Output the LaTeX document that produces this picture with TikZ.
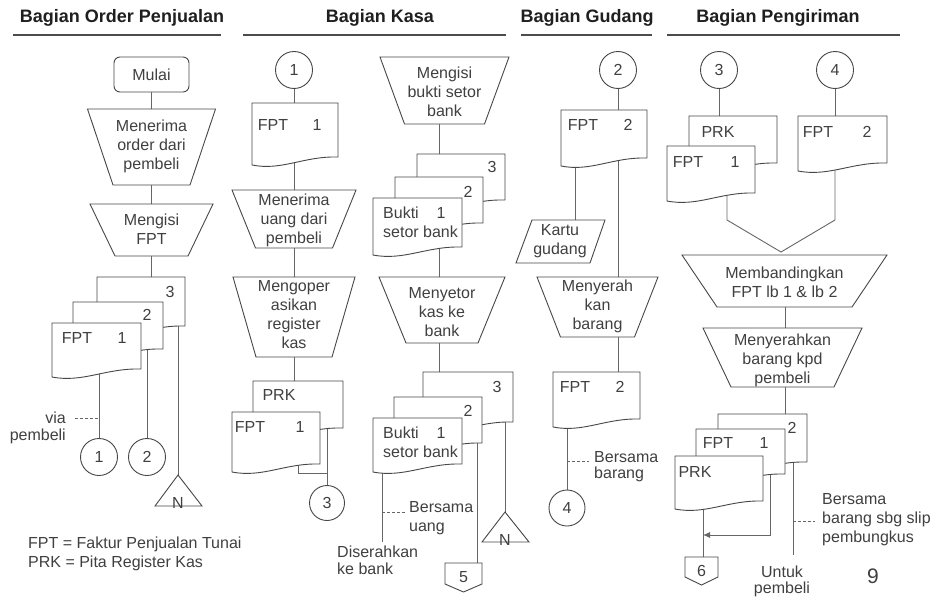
\documentclass[tikz,border=0pt]{standalone}
\usepackage{fontspec}
\setmainfont{Liberation Sans}
\usetikzlibrary{arrows.meta}
\pgfdeclarelayer{back}
\pgfsetlayers{back,main}

\tikzset{
  shp/.style={draw=black!72, line width=0.9pt, line join=miter},
  conn/.style={draw=black!60, line width=0.9pt},
  dashconn/.style={draw=black!60, line width=0.9pt, dash pattern=on 3pt off 2pt},
  lab/.style={inner sep=0pt, text=black!75, font=\fontsize{16}{19}\selectfont, align=center},
  hdr/.style={inner sep=0pt, text=black!88, font=\fontsize{18}{21}\selectfont\bfseries},
  hrule/.style={draw=black!70, line width=2pt},
  conncirc/.style={circle, shp, fill=white, minimum size=37pt, inner sep=0pt,
                   text=black!75, font=\fontsize{16}{19}\selectfont},
  term/.style={shp, fill=white, rounded corners=6pt, minimum width=75pt,
               minimum height=35pt, inner sep=0pt, text=black!75,
               font=\fontsize{16}{19}\selectfont},
}

% document symbol: name, left x, top y, right x, bottom-left y
\newcommand\docu[5]{%
  \draw[shp, fill=white] (#2,#3) -- (#4,#3) -- (#4,{#5-8})
    .. controls ({#2+0.6*(#4-#2)},{#5-9}) and ({#2+0.35*(#4-#2)},{#5+6}) .. (#2,#5) -- cycle;
  \coordinate (#1) at ({(#2+#4)/2},#3);
}

% manual operation: name, centre x, top y, bottom y, half top, half bottom, text, text y
\newcommand\manop[8]{%
  \draw[shp, fill=white] ({#2-#5},#3) -- ({#2+#5},#3) -- ({#2+#6},#4) -- ({#2-#6},#4) -- cycle;
  \node[lab] (#1) at (#2,#8) {#7};
  \coordinate (#1-t) at (#2,#3);
  \coordinate (#1-b) at (#2,#4);
}

\begin{document}
\begin{tikzpicture}[x=1pt, y=-1pt]
\useasboundingbox (0,0) rectangle (934,597);
\begin{pgfonlayer}{back}
  \fill[white] (0,0) rectangle (934,597);
\end{pgfonlayer}

% ---------------- headers ----------------
\node[hdr] (hOrder) at (122,18) {Bagian Order Penjualan};
\draw[hrule] (13,35) -- (221,35);
\node[hdr] (hKasa) at (380,18) {Bagian Kasa};
\draw[hrule] (243,35) -- (506,35);
\node[hdr] (hGud) at (587,18) {Bagian Gudang};
\draw[hrule] (521,35) -- (652,35);
\node[hdr] (hKirim) at (778,18) {Bagian Pengiriman};
\draw[hrule] (667,35) -- (900,35);

% ---------------- Bagian Order Penjualan ----------------
\node[term] (mulai) at (151.5,74.5) {Mulai};
\manop{opA}{151.5}{109}{185}{64}{38.5}{Menerima\\order dari\\pembeli}{146}
\manop{opB}{151.5}{204}{256}{61.5}{36.5}{Mengisi\\FPT}{229}
\docu{oD3}{97}{277}{185}{334}
\docu{oD2}{73}{302}{163}{357}
\docu{oD1}{52}{323}{141}{377}
\node[lab] (oT3) at (170,292) {3};
\node[lab] (oT2) at (147,315) {2};
\node[lab] (oT1a) at (77,338) {FPT};
\node[lab] (oT1b) at (122,338) {1};
\node[conncirc] (o1) at (99,457) {1};
\node[conncirc] (o2) at (147,457) {2};
\coordinate (oNtop) at (178,475);
\draw[shp, fill=white] (oNtop) -- (202,506) -- (155,506) -- cycle;
\node[lab] (oN) at (178,503) {N};
\node[lab, anchor=east, align=right, font=\fontsize{16}{17}\selectfont] (via) at (66,428) {via\\pembeli};
\coordinate (viaDash) at (75,418);
\node[lab, anchor=west] (leg1) at (28,544) {FPT = Faktur Penjualan Tunai};
\node[lab, anchor=west] (leg2) at (28,563) {PRK = Pita Register Kas};

% ---------------- Bagian Kasa ----------------
\node[conncirc] (k1) at (294,70) {1};
\docu{kD}{252}{103}{338}{165}
\node[lab] (kDa) at (273,125) {FPT};
\node[lab] (kDb) at (317,125) {1};
\manop{opC}{294}{190}{248}{62}{38.5}{Menerima\\uang dari\\pembeli}{220}
\manop{opD}{294}{277}{357}{61}{38}{Mengoper\\asikan\\register\\kas}{315}
\docu{kP}{253}{381}{343}{436}
\node[lab] (kPa) at (279,395) {PRK};
\docu{kF}{232}{412}{320}{472}
\node[lab] (kFa) at (250,427) {FPT};
\node[lab] (kFb) at (300,427) {1};
\node[conncirc, minimum size=35pt] (k3) at (327,503) {3};
\coordinate (kJ) at (298,473);

\manop{opE}{444.5}{57}{124}{64.5}{40}{Mengisi\\bukti setor\\bank}{92}
\docu{kB3}{417}{154}{505}{208}
\docu{kB2}{395}{177}{483}{231}
\docu{kB1}{373}{198}{462}{255}
\node[lab] (kB3a) at (492,167) {3};
\node[lab] (kB2a) at (468,192) {2};
\node[lab, anchor=west] (kB1a) at (383,213) {Bukti};
\node[lab] (kB1b) at (441,213) {1};
\node[lab, anchor=west] (kB1c) at (383,232) {setor bank};
\coordinate (kcol) at (439,0);
\manop{opF}{442}{277}{343}{63}{36}{Menyetor\\kas ke\\bank}{312}
\docu{kC3}{423}{372}{513}{430}
\docu{kC2}{394}{397}{482}{451}
\docu{kC1}{373}{418}{462}{472}
\node[lab] (kC3a) at (497,387) {3};
\node[lab] (kC2a) at (468,411) {2};
\node[lab, anchor=west] (kC1a) at (383,433) {Bukti};
\node[lab] (kC1b) at (441,433) {1};
\node[lab, anchor=west] (kC1c) at (383,452) {setor bank};
\coordinate (kEnd) at (382,542);
\coordinate (kDash) at (406,512);
\node[lab, anchor=west, align=left] (kUang) at (409,518) {Bersama\\uang};
\node[lab, anchor=west, align=left, font=\fontsize{16}{17}\selectfont] (kBank) at (337,560.5) {Diserahkan\\ke bank};
\coordinate (k5top) at (477,563);
\draw[shp, fill=white] (445,563) -- (482,563) -- (482,584) -- (463.5,592) -- (445,584) -- cycle;
\node[lab] (k5) at (463.5,577) {5};
\coordinate (kNtop) at (505,512);
\draw[shp, fill=white] (kNtop) -- (529,542) -- (482,542) -- cycle;
\node[lab] (kN) at (505,540) {N};

% ---------------- Bagian Gudang ----------------
\node[conncirc] (g2) at (618,70) {2};
\coordinate (gcol) at (618,0);
\docu{gD}{561}{110}{647}{166}
\node[lab] (gDa) at (583,125) {FPT};
\node[lab] (gDb) at (628,125) {2};
\coordinate (gKt) at (575,220);
\draw[shp, fill=white] (532,220) -- (605,220) -- (590,263) -- (516,263) -- cycle;
\node[lab] (gK) at (560,241) {Kartu\\gudang};
\manop{opG}{597.5}{277}{337}{60.5}{37}{Menyerah\\kan\\barang}{306}
\docu{gD2}{553}{372}{640}{427}
\node[lab] (gD2a) at (575,387) {FPT};
\node[lab] (gD2b) at (620,387) {2};
\node[conncirc, minimum size=36pt] (g4) at (567,508) {4};
\coordinate (gDash) at (589,461);
\node[lab, anchor=west, align=left, font=\fontsize{16}{16}\selectfont] (gBrg) at (594,466.5) {Bersama\\barang};

% ---------------- Bagian Pengiriman ----------------
\node[conncirc] (p3) at (719,70) {3};
\node[conncirc] (p4) at (835,70) {4};
\docu{pP}{689}{116}{777}{171}
\node[lab] (pPa) at (718,132) {PRK};
\docu{pF1}{667}{146}{755}{201}
\node[lab] (pF1a) at (688,162) {FPT};
\node[lab] (pF1b) at (735,162) {1};
\docu{pF2}{798}{116}{887}{171}
\node[lab] (pF2a) at (818,132) {FPT};
\node[lab] (pF2b) at (867,132) {2};
\coordinate (pL) at (727,220);
\coordinate (pV) at (781,252);
\coordinate (pR) at (835,220);
\manop{opH}{784.5}{255}{307}{102.5}{67.5}{Membandingkan\\FPT lb 1 \& lb 2}{282.5}
\manop{opI}{782.5}{328}{387}{79.5}{51.5}{Menyerahkan\\barang kpd\\pembeli}{360}
\coordinate (pcol) at (785,0);
\docu{pQ2}{718}{414}{807}{470}
\docu{pQ1}{696}{429}{785}{482}
\docu{pQ0}{675}{456}{763}{509}
\node[lab] (pQ2a) at (792,428) {2};
\node[lab] (pQ1a) at (718,443) {FPT};
\node[lab] (pQ1b) at (764,443) {1};
\node[lab] (pQ0a) at (695,472) {PRK};
\coordinate (p6top) at (703,557);
\draw[shp, fill=white] (685,557) -- (718,557) -- (718,577) -- (701.5,585) -- (685,577) -- cycle;
\node[lab] (p6) at (701.5,571) {6};
\coordinate (pArr) at (770,535);
\coordinate (pEnd) at (793,555);
\coordinate (pDash) at (815,521);
\node[lab, anchor=west, align=left] (pSlip) at (822,520) {Bersama\\barang sbg slip\\pembungkus};
\node[lab, font=\fontsize{16}{16}\selectfont] (pUntuk) at (782,581.5) {Untuk\\pembeli};
\node[lab, font=\fontsize{21}{24}\selectfont] (pageno) at (873,576) {9};

% ---------------- connectors ----------------
\begin{pgfonlayer}{back}
  % order
  \draw[conn] (mulai) -- (opA-t);
  \draw[conn] (opA-b) -- (opB-t);
  \draw[conn] (opB-b) -- (opB-b |- oD3);
  \draw[conn] (o1 |- oD1) -- (o1);
  \draw[conn] (o2 |- oD2) -- (o2);
  \draw[conn] (oNtop |- oD3) -- (oNtop);
  \draw[dashconn] (viaDash) -- (viaDash -| o1);
  % kasa, left
  \draw[conn] (k1) -- (k1 |- kD);
  \draw[conn] (opC-t |- kD) -- (opC-t);
  \draw[conn] (opC-b) -- (opD-t);
  \draw[conn] (opD-b) -- (opD-b |- kP);
  \draw[conn] (kJ |- kF) -- (kJ) -- (kJ -| k3);
  \draw[conn] (k3 |- kP) -- (k3);
  % kasa, right
  \draw[conn] (kcol |- opE-b) -- (kcol |- kB3);
  \draw[conn] (kcol |- kB1) -- (kcol |- opF-t);
  \draw[conn] (kcol |- opF-b) -- (kcol |- kC3);
  \draw[conn] (kEnd |- kC1) -- (kEnd);
  \draw[dashconn] (kDash -| kEnd) -- (kDash);
  \draw[conn] (k5top |- kC2) -- (k5top);
  \draw[conn] (kNtop |- kC3) -- (kNtop);
  % gudang
  \draw[conn] (g2) -- (g2 |- gD);
  \draw[conn] (gcol |- gD) -- (gcol |- opG-t);
  \draw[conn] (gcol |- opG-b) -- (gcol |- gD2);
  \draw[conn] (gKt |- gD) -- (gKt);
  \draw[conn] (g4 |- gD2) -- (g4);
  \draw[dashconn] (gDash -| g4) -- (gDash);
  % pengiriman
  \draw[conn] (p3) -- (p3 |- pP);
  \draw[conn] (p4) -- (p4 |- pF2);
  \draw[conn] (pL |- pF1) -- (pL) -- (pV) -- (pR) -- (pR |- pF2);
  \draw[conn] (pcol |- opH-b) -- (pcol |- opI-t);
  \draw[conn] (pcol |- opI-b) -- (pcol |- pQ2);
  \draw[conn] (p6top |- pQ0) -- (p6top);
  \draw[conn, -{Latex[length=7pt,width=6pt]}] (pArr |- pQ1) -- (pArr) -- (pArr -| p6top);
  \draw[conn] (pEnd |- pQ2) -- (pEnd);
  \draw[dashconn] (pDash -| pEnd) -- (pDash);
\end{pgfonlayer}
\end{tikzpicture}
\end{document}
